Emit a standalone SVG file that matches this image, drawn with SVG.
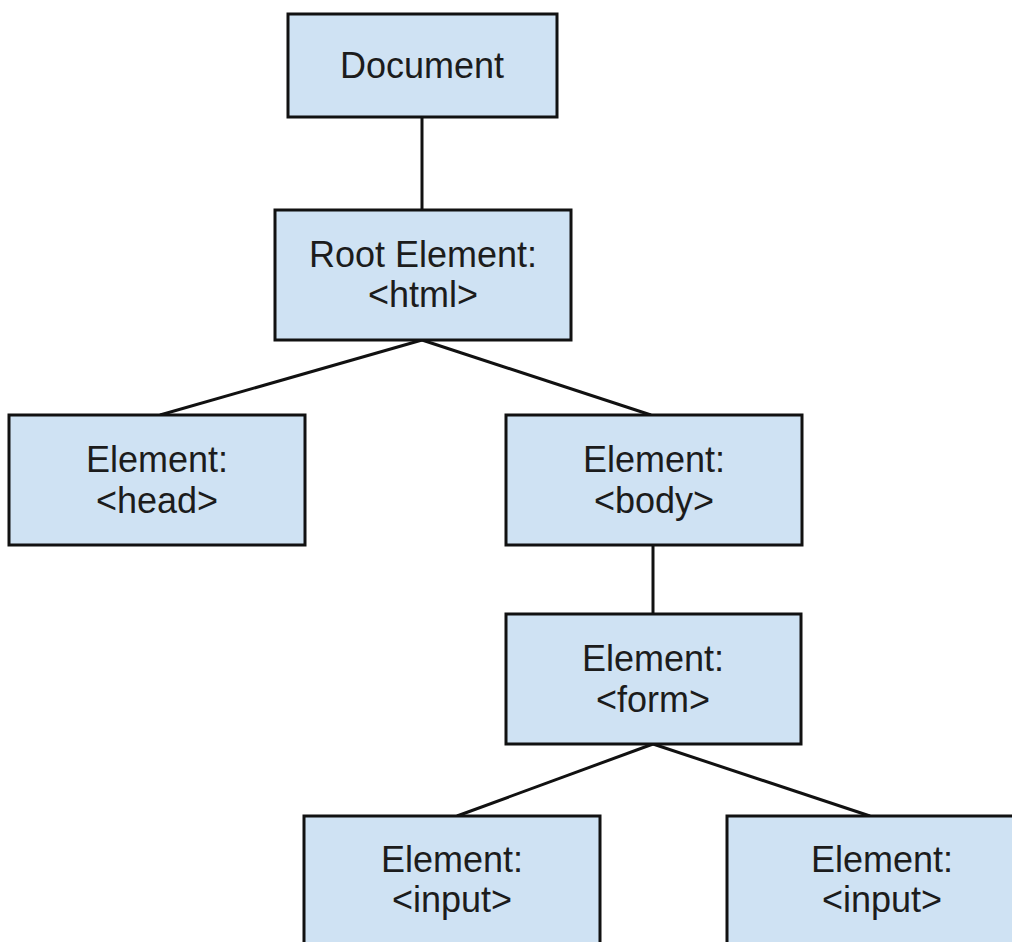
<svg xmlns="http://www.w3.org/2000/svg" width="1012" height="942" viewBox="0 0 1012 942">
<style>
.box{fill:#cfe2f3;stroke:#111;stroke-width:3}
.t{font-family:"Liberation Sans",Arial,sans-serif;font-size:36px;fill:#1c1c1c;text-anchor:middle}
.c{stroke:#111;stroke-width:3;fill:none}
</style>
<rect width="1012" height="942" fill="#ffffff"/>
<g id="connectors">
<line class="c" x1="422" y1="117" x2="422" y2="210"/>
<line class="c" x1="422" y1="340" x2="160" y2="415"/>
<line class="c" x1="422" y1="340" x2="651" y2="415"/>
<line class="c" x1="653" y1="545" x2="653" y2="614"/>
<line class="c" x1="653" y1="744" x2="457" y2="816"/>
<line class="c" x1="653" y1="744" x2="870" y2="816"/>
</g>
<g id="document">
<rect class="box" x="288" y="14" width="269" height="103"/>
<text class="t" x="422" y="78">Document</text>
</g>
<g id="root">
<rect class="box" x="275" y="210" width="296" height="130"/>
<text class="t" x="423" y="267">Root Element:</text>
<text class="t" x="423" y="307">&lt;html&gt;</text>
</g>
<g id="head">
<rect class="box" x="9" y="415" width="296" height="130"/>
<text class="t" x="157" y="472">Element:</text>
<text class="t" x="157" y="513">&lt;head&gt;</text>
</g>
<g id="body">
<rect class="box" x="506" y="415" width="296" height="130"/>
<text class="t" x="654" y="472">Element:</text>
<text class="t" x="654" y="513">&lt;body&gt;</text>
</g>
<g id="form">
<rect class="box" x="506" y="614" width="295" height="130"/>
<text class="t" x="653" y="671">Element:</text>
<text class="t" x="653" y="712">&lt;form&gt;</text>
</g>
<g id="input1">
<rect class="box" x="304" y="816" width="296" height="140"/>
<text class="t" x="452" y="872">Element:</text>
<text class="t" x="452" y="912">&lt;input&gt;</text>
</g>
<g id="input2">
<rect class="box" x="727" y="816" width="310" height="140"/>
<text class="t" x="882" y="872">Element:</text>
<text class="t" x="882" y="912">&lt;input&gt;</text>
</g>
</svg>
